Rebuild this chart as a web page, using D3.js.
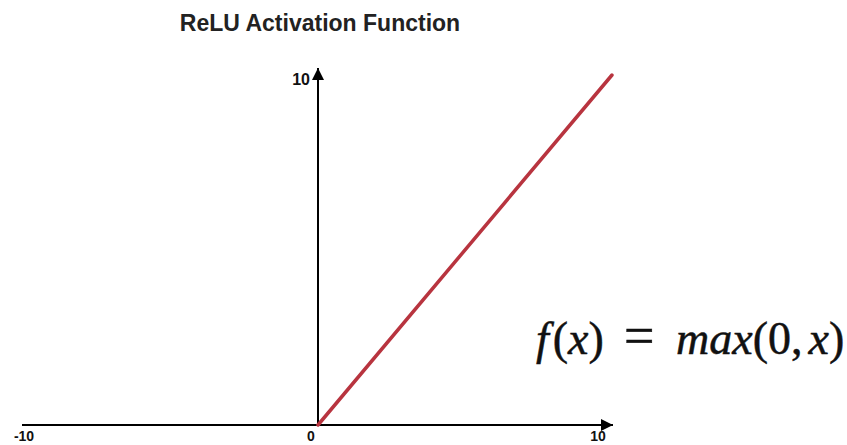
<!DOCTYPE html>
<html>
<head>
<meta charset="utf-8">
<script src="https://cdn.jsdelivr.net/npm/d3@7"></script>
<style>
  body { margin: 0; background: #fff; }
  .tick-label { font-family: "Liberation Sans", Arial, sans-serif; font-weight: bold; font-size: 15px; fill: #111; }
</style>
</head>
<body>
<div id="chart"></div>
<script>
// Define SVG area dimensions
var svgWidth = 847;
var svgHeight = 445;

// Chart values
var titleText = "ReLU Activation Function";
var xTicks = [-10, 0, 10];
var yTicks = [10];
var reluX = [0, 10];
var reluY = [0, 10];

// Scales (pixel ranges)
var xScale = d3.scaleLinear().domain([-10, 10]).range([24, 612]);
var yScale = d3.scaleLinear().domain([0, 10]).range([425, 75]);

var svg = d3.select("#chart")
  .append("svg")
  .attr("width", svgWidth)
  .attr("height", svgHeight);

// Title
svg.append("text")
  .attr("x", 320)
  .attr("y", 31)
  .attr("text-anchor", "middle")
  .style("font-family", "'Liberation Sans', Arial, sans-serif")
  .style("font-weight", "bold")
  .style("font-size", "23px")
  .style("fill", "#222")
  .text(titleText);

// Arrow marker for the axes
var defs = svg.append("defs");
defs.append("marker")
  .attr("id", "arrow")
  .attr("viewBox", "0 0 10 10")
  .attr("refX", 10)
  .attr("refY", 5)
  .attr("markerUnits", "userSpaceOnUse")
  .attr("markerWidth", 18)
  .attr("markerHeight", 12)
  .attr("orient", "auto")
  .append("path")
  .attr("d", "M0,0 L10,5 L0,10 Z")
  .attr("fill", "#000");

// X axis line
svg.append("line")
  .attr("x1", xScale(-10) - 2)
  .attr("y1", yScale(0))
  .attr("x2", xScale(10) + 1)
  .attr("y2", yScale(0))
  .attr("stroke", "#000")
  .attr("stroke-width", 2)
  .attr("marker-end", "url(#arrow)");

// Y axis line
svg.append("line")
  .attr("x1", xScale(0))
  .attr("y1", yScale(0))
  .attr("x2", xScale(0))
  .attr("y2", yScale(10) - 7)
  .attr("stroke", "#000")
  .attr("stroke-width", 2)
  .attr("marker-end", "url(#arrow)");

// X tick labels (shifted to sit like the reference)
var xOffsets = { "-10": 0, "0": -7, "10": -14 };
svg.selectAll(".x-label")
  .data(xTicks)
  .enter()
  .append("text")
  .attr("class", "tick-label x-label")
  .attr("x", d => xScale(d) + xOffsets[d])
  .attr("y", yScale(0) + 16)
  .attr("text-anchor", "middle")
  .style("font-size", "14px")
  .text(d => d);

// Y tick labels
svg.selectAll(".y-label")
  .data(yTicks)
  .enter()
  .append("text")
  .attr("class", "tick-label y-label")
  .attr("x", xScale(0) - 8)
  .attr("y", d => yScale(d) + 10)
  .attr("text-anchor", "end")
  .style("font-size", "16px")
  .text(d => d);

// ReLU line
var line = d3.line()
  .x(d => xScale(d[0]))
  .y(d => yScale(d[1]));

svg.append("path")
  .datum(d3.zip(reluX, reluY))
  .attr("d", line)
  .attr("fill", "none")
  .attr("stroke", "#b8343f")
  .attr("stroke-width", 3.5)
  .attr("stroke-linecap", "round");

// Formula, in three groups like math typesetting
var formula = svg.append("g")
  .style("font-family", "'Liberation Serif', 'Times New Roman', serif")
  .style("font-size", "46px")
  .style("fill", "#111")
  .style("stroke", "#111")
  .style("stroke-width", 0.5);

function addPieces(x, size, pieces) {
  var t = formula.append("text")
    .attr("x", x)
    .attr("y", 354)
    .style("font-size", size + "px");
  pieces.forEach(function(p) {
    t.append("tspan")
      .attr("dx", p[2] || 0)
      .style("font-style", p[1] ? "italic" : "normal")
      .text(p[0]);
  });
}

addPieces(536, 46, [["f", true], ["(", false, 4], ["x", true], [")", false]]);
addPieces(624, 54, [["=", false]]);
addPieces(676, 46, [["max", true], ["(0,", false], ["x", true, 6], [")", false]]);
</script>
</body>
</html>
